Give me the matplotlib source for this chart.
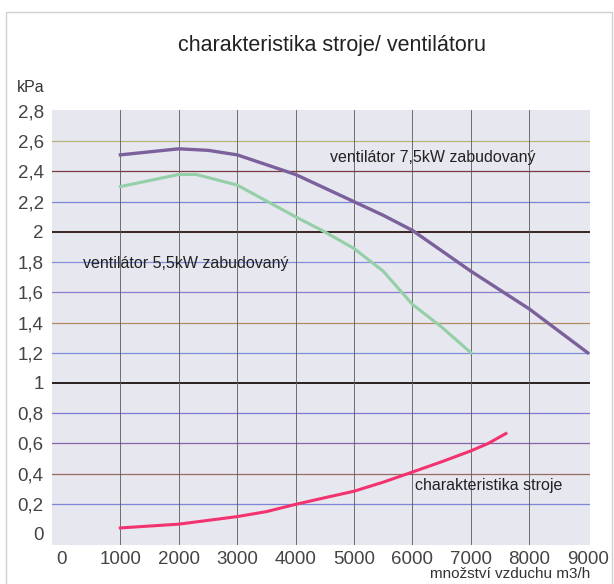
import numpy as np
import matplotlib.pyplot as plt
from matplotlib.patches import Rectangle

# air flow (m3/h) and pressure (kPa)
flow_75 = [1000, 2000, 2500, 3000, 4000, 5000, 5500, 6000, 7000, 8000, 9000]
kpa_75 = [2.51, 2.55, 2.54, 2.51, 2.38, 2.20, 2.11, 2.01, 1.74, 1.49, 1.20]

flow_55 = [1000, 2000, 2300, 3000, 4000, 4500, 5000, 5500, 6000, 6500, 7000]
kpa_55 = [2.30, 2.38, 2.38, 2.31, 2.10, 2.00, 1.89, 1.74, 1.52, 1.37, 1.20]

flow_machine = [1000, 2000, 3000, 3500, 4000, 4500, 5000, 5500, 6000, 6500, 7000, 7300, 7600]
kpa_machine = [0.04, 0.065, 0.115, 0.148, 0.196, 0.24, 0.283, 0.343, 0.41, 0.478, 0.55, 0.60, 0.665]

x_ticks = [0, 1000, 2000, 3000, 4000, 5000, 6000, 7000, 8000, 9000]
y_ticks = [0, 0.2, 0.4, 0.6, 0.8, 1.0, 1.2, 1.4, 1.6, 1.8, 2.0, 2.2, 2.4, 2.6, 2.8]
y_labels = ['0', '0,2', '0,4', '0,6', '0,8', '1', '1,2', '1,4', '1,6', '1,8',
            '2', '2,2', '2,4', '2,6', '2,8']

# scanned gridline colours
hline_colors = {0.2: '#7f86d8', 0.4: '#9a6a60', 0.6: '#8a62a8', 0.8: '#7c7ed6',
                1.0: '#2a1f1f', 1.2: '#7f90d8', 1.4: '#b08a62', 1.6: '#8a7cc8',
                1.8: '#8490dc', 2.0: '#3a2420', 2.2: '#7a86d4', 2.4: '#7a3a40',
                2.6: '#b8b478'}

plt.rcParams['font.family'] = ['Liberation Sans', 'DejaVu Sans']

fig = plt.figure(figsize=(6.14, 5.84), dpi=100)
ax = fig.add_axes([52/614, 1-545/584, 538/614, 435/584])
ax.set_facecolor('#e7e7ef')

for v, c in hline_colors.items():
    lw = 1.4 if v in (1.0, 2.0) else 0.9
    ax.axhline(v, color=c, lw=lw, zorder=1)
for v in x_ticks[1:-1]:
    ax.axvline(v, color='#5a5a5a', lw=0.6, zorder=1)

ax.plot(flow_75, kpa_75, color='#7b609c', lw=2.4, zorder=3)
ax.plot(flow_55, kpa_55, color='#94cfa8', lw=2.2, zorder=3)
ax.plot(flow_machine, kpa_machine, color='#f2336f', lw=2.2, zorder=3)

ax.text(4590, 2.49, 'ventilátor 7,5kW zabudovaný', fontsize=11.5, color='#222', va='center')
ax.text(360, 1.79, 'ventilátor 5,5kW zabudovaný', fontsize=11.5, color='#222', va='center')
ax.text(6050, 0.32, 'charakteristika stroje', fontsize=11.5, color='#222', va='center')

ax.set_xlim(-170, 9040)
ax.set_ylim(-0.073, 2.807)
ax.set_xticks(x_ticks)
ax.set_xticklabels([str(v) for v in x_ticks])
ax.set_yticks(y_ticks)
ax.set_yticklabels(y_labels)
ax.tick_params(length=0, labelsize=13.5, labelcolor='#444444')
ax.tick_params(axis='x', pad=4)
ax.tick_params(axis='y', pad=6)
for s in ax.spines.values():
    s.set_visible(False)

fig.text(332/614, 1-45/584, 'charakteristika stroje/ ventilátoru', fontsize=15.5,
         ha='center', va='center', color='#222')
fig.text(17/614, 1-88/584, 'kPa', fontsize=11.5, ha='left', va='center', color='#333')
fig.text(590/614, 1-574/584, 'množství vzduchu m3/h', fontsize=11, ha='right',
         va='center', color='#333')

fig.patches.append(Rectangle((6/614, -0.01), 606/614, 1-12/584+0.01,
                             transform=fig.transFigure, fill=False,
                             edgecolor='#cfcfcf', lw=1.0))

fig.savefig('out.png', dpi=100)
